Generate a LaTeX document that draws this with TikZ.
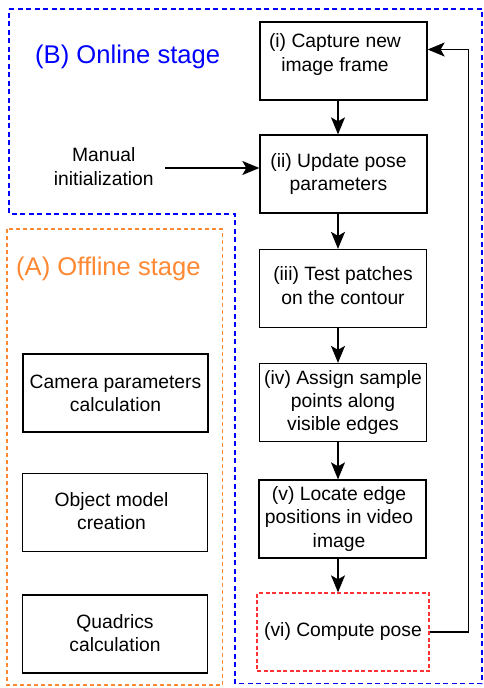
\documentclass[tikz,border=0pt]{standalone}
\usepackage{fontspec}
\setmainfont{Liberation Sans}
\usetikzlibrary{arrows.meta,calc}

\definecolor{stageblue}{RGB}{0,0,255}
\definecolor{stageorange}{RGB}{255,136,51}
\definecolor{poseRed}{RGB}{255,51,51}

\begin{document}
\begin{tikzpicture}[x=1pt,y=-1pt,
  every node/.style={font=\fontsize{19.3}{23.2}\selectfont},
  txt/.style={inner sep=0pt, align=center},
  box/.style={draw, line width=1.3pt, minimum width=167pt, minimum height=78pt, inner sep=0pt},
  leftbox/.style={box, minimum width=185pt},
  posebox/.style={box, draw=poseRed, dash pattern=on 4pt off 2.5pt, minimum width=172pt},
  arr/.style={line width=1.3pt, -{Stealth[length=17pt,width=14pt,inset=4pt]}},
  title/.style={anchor=base west, inner sep=0pt, font=\fontsize{25.6}{30}\selectfont}
]
\useasboundingbox (0,0) rectangle (484,688);

% stage frames
\draw[stageblue, line width=1.5pt, dash pattern=on 5pt off 3.5pt]
  (9,9) -- (482,9) -- (482,683.5) -- (235,683.5) -- (235,214) -- (9,214) -- cycle;
\draw[stageorange, line width=1.3pt, dash pattern=on 4pt off 3pt]
  (7,229) rectangle (222.5,685);

\node[title, text=stageblue] (titleB) at (35,63.3) {(B) Online stage};
\node[title, text=stageorange] (titleA) at (16,275.7) {(A) Offline stage};

% offline stage boxes
\node[leftbox, label={[txt]center:{Camera parameters\\calculation}}] (c1) at (115.5,393) {};
\node[leftbox, label={[txt,xshift=-3.5pt,yshift=1.5pt]center:{Object model\\creation}}] (c2) at (115,512.5) {};
\node[leftbox, label={[txt,yshift=1pt]center:{Quadrics\\calculation}}] (c3) at (115,634) {};

% online loop
\node[box, label={[txt,xshift=-8.5pt,yshift=6.5pt]center:{(i) Capture new\\image frame}}] (n1) at (343.5,61) {};
\node[box, label={[txt,xshift=-5pt]center:{(ii) Update pose\\parameters}}] (n2) at (343.5,174) {};
\node[box, label={[txt,yshift=3pt]center:{(iii) Test patches\\on the contour}}] (n3) at (343,288.5) {};
\node[box, label={[txt]center:{(iv) Assign sample\\points along\\visible edges}}] (n4) at (343,402.5) {};
\node[box, label={[txt,xshift=-3.5pt]center:{(v) Locate edge\\positions in video\\image}}] (n5) at (342.5,519) {};
\node[posebox, label={[txt]center:{(vi) Compute pose}}] (n6) at (343,632) {};

\node[txt] (man) at (103.8,166.5) {Manual\\initialization};

\coordinate (col) at (338,0);
\coordinate (mstart) at (165,168);

\draw[arr] (n1.south -| col) -- (n2.north -| col);
\draw[arr] (n2.south -| col) -- (n3.north -| col);
\draw[arr] (n3.south -| col) -- (n4.north -| col);
\draw[arr] (n4.south -| col) -- (n5.north -| col);
\draw[arr] (n5.south -| col) -- (n6.north -| col);

\draw[arr] (mstart) -- (mstart -| n2.west);

\draw[arr] (n6.east) -- ++(38.5,0) |- ($(n1.east)+(0,-11.5)$);
\end{tikzpicture}
\end{document}
